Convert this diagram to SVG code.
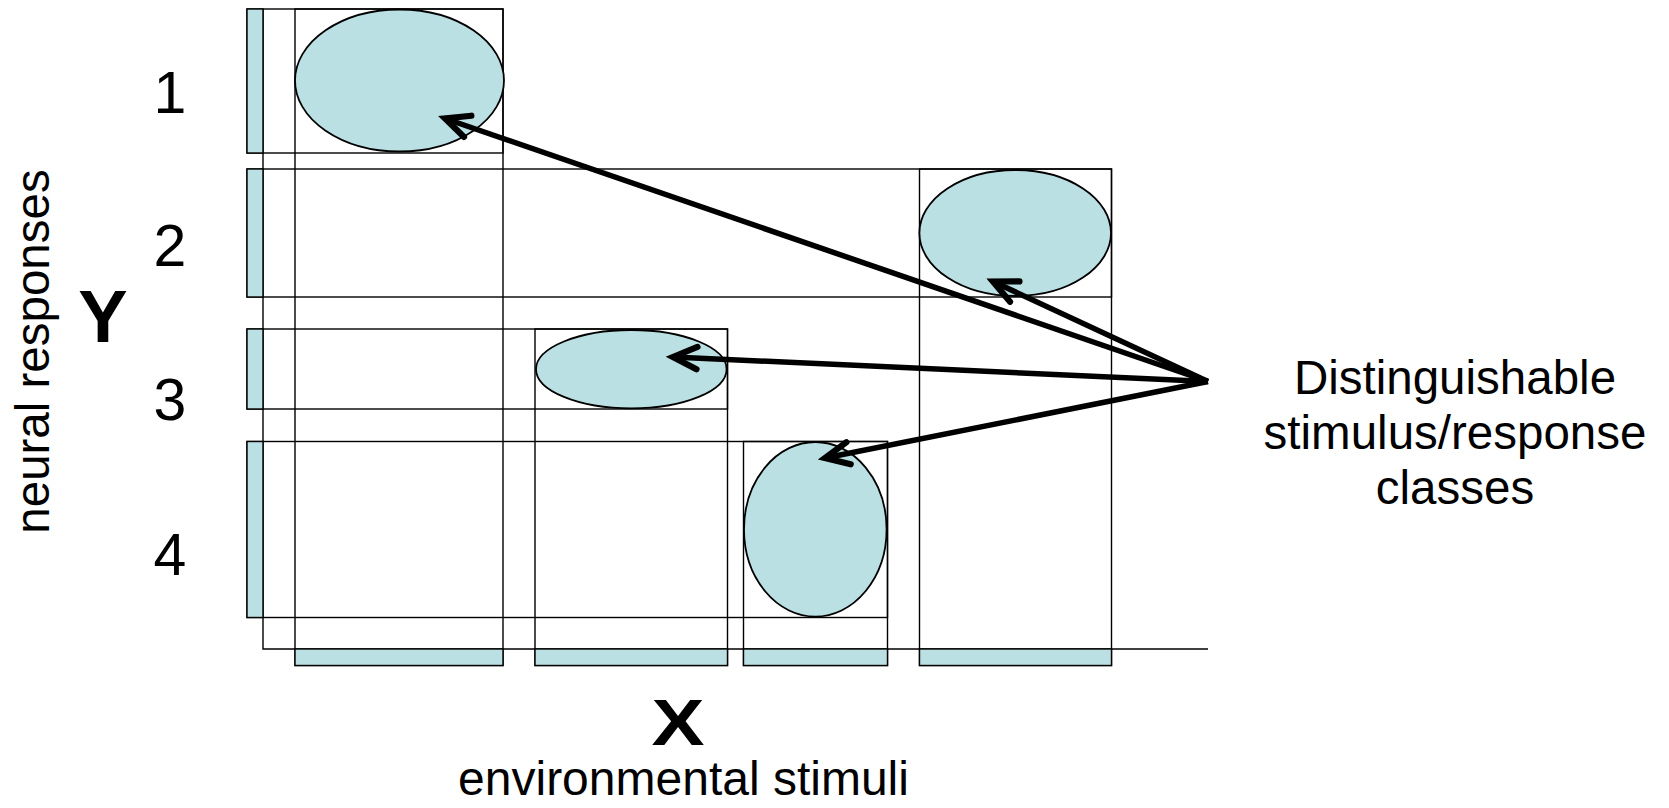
<svg xmlns="http://www.w3.org/2000/svg" width="1669" height="808" viewBox="0 0 1669 808">
<style>
.box{fill:none;stroke:#000;stroke-width:1.4}
.bar{fill:#BBE0E3;stroke:#000;stroke-width:1.4}
.ell{fill:#BBE0E3;stroke:#000;stroke-width:1.8}
.ax{fill:none;stroke:#000;stroke-width:1.4}
.arr{fill:none;stroke:#000;stroke-width:5.5;marker-end:url(#head)}
.t{font-family:"Liberation Sans",Arial,sans-serif;fill:#000}
</style>
<defs>
<marker id="head" markerUnits="userSpaceOnUse" viewBox="-30 -20 40 40" refX="0" refY="0" markerWidth="40" markerHeight="40" orient="auto">
<path d="M -24 -11.2 L 0 0 L -24 11.2" fill="none" stroke="#000" stroke-width="6.2" stroke-linecap="round" stroke-linejoin="miter"/>
</marker>
</defs>
<rect width="1669" height="808" fill="#fff"/>
<g id="axes">
<path class="ax" d="M263 9 V649 H1208"/>
</g>
<g id="row1"><rect class="box" x="247" y="9" width="256" height="144"/><rect class="bar" x="247" y="9" width="16" height="144"/></g>
<g id="row2"><rect class="box" x="247" y="169" width="864.5" height="128"/><rect class="bar" x="247" y="169" width="16" height="128"/></g>
<g id="row3"><rect class="box" x="247" y="329" width="480.5" height="80"/><rect class="bar" x="247" y="329" width="16" height="80"/></g>
<g id="row4"><rect class="box" x="247" y="441.5" width="640.5" height="176"/><rect class="bar" x="247" y="441.5" width="16" height="176"/></g>
<g id="col1"><rect class="box" x="295" y="9" width="208" height="656.5"/><rect class="bar" x="295" y="649" width="208" height="16.5"/></g>
<g id="col2"><rect class="box" x="535" y="329" width="192.5" height="336.5"/><rect class="bar" x="535" y="649" width="192.5" height="16.5"/></g>
<g id="col3"><rect class="box" x="743.5" y="441.5" width="144" height="224"/><rect class="bar" x="743.5" y="649" width="144" height="16.5"/></g>
<g id="col4"><rect class="box" x="919.5" y="169" width="192" height="496.5"/><rect class="bar" x="919.5" y="649" width="192" height="16.5"/></g>
<g id="class1"><ellipse class="ell" cx="399.5" cy="80.5" rx="104.5" ry="71"/></g>
<g id="class2"><ellipse class="ell" cx="1015.2" cy="233" rx="95.8" ry="63"/></g>
<g id="class3"><ellipse class="ell" cx="631.3" cy="369.2" rx="95.3" ry="39.2"/></g>
<g id="class4"><ellipse class="ell" cx="815.3" cy="529.3" rx="71.3" ry="87.3"/></g>
<g id="connectors">
<line class="arr" x1="1208" y1="381.5" x2="445" y2="118.5"/>
<line class="arr" x1="1208" y1="381.5" x2="993" y2="281.5"/>
<line class="arr" x1="1208" y1="381.5" x2="673" y2="357"/>
<line class="arr" x1="1208" y1="381.5" x2="825" y2="458"/>
</g>
<g id="labels">
<text class="t" x="170" y="113" font-size="59" text-anchor="middle">1</text>
<text class="t" x="170" y="266" font-size="59" text-anchor="middle">2</text>
<text class="t" x="170" y="420" font-size="59" text-anchor="middle">3</text>
<text class="t" x="170" y="575" font-size="59" text-anchor="middle">4</text>
<text class="t" x="103" y="341.5" font-size="74" font-weight="bold" text-anchor="middle">Y</text>
<text class="t" transform="translate(49,351.5) rotate(-90)" font-size="47.5" text-anchor="middle">neural responses</text>
<text class="t" x="678" y="745" font-size="65" font-weight="bold" text-anchor="middle" textLength="53" lengthAdjust="spacingAndGlyphs">X</text>
<text class="t" x="683.5" y="795" font-size="48" text-anchor="middle">environmental stimuli</text>
<text class="t" x="1455" y="394" font-size="47.5" text-anchor="middle">Distinguishable</text>
<text class="t" x="1455" y="449" font-size="47.5" text-anchor="middle">stimulus/response</text>
<text class="t" x="1455" y="504" font-size="47.5" text-anchor="middle">classes</text>
</g>
</svg>
